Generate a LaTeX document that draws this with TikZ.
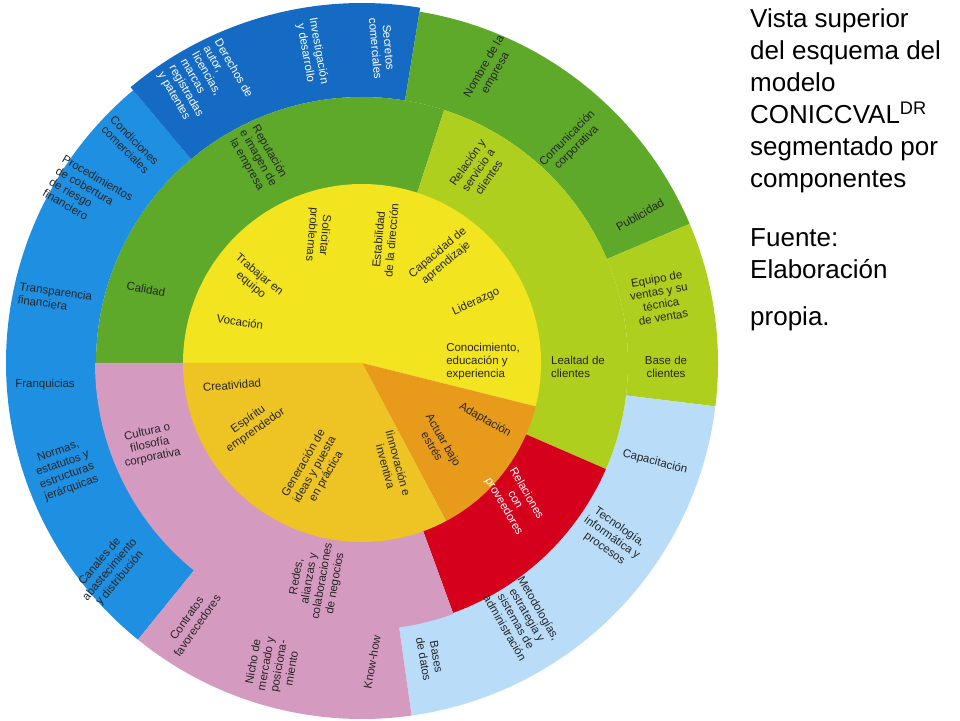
\documentclass[tikz,border=0pt]{standalone}
\usepackage{fontspec}
\setmainfont{Liberation Sans}
\begin{document}
\begin{tikzpicture}[x=1pt,y=1pt,
  lbl/.style={font=\fontsize{11.5}{13}\selectfont,align=center,inner sep=1pt,text=black!85},
  lbll/.style={lbl,align=left},
  wlbl/.style={lbl,text=white},
  title/.style={font=\fontsize{26}{32}\selectfont,align=left,anchor=north west,inner sep=0pt}]
\definecolor{dgreen}{HTML}{5EA82A}
\definecolor{lgreen}{HTML}{AECF1E}
\definecolor{yel}{HTML}{F2E41E}
\definecolor{ora}{HTML}{E89B1A}
\definecolor{gold}{HTML}{EDC423}
\definecolor{redc}{HTML}{D5001C}
\definecolor{pinkc}{HTML}{D59ABF}
\definecolor{lblue}{HTML}{B9DDF9}
\definecolor{bluec}{HTML}{1E8FE1}
\definecolor{dblue}{HTML}{156BC3}
\useasboundingbox (0,0) rectangle (960,720);
\fill[white] (0,0) rectangle (960,720);
\coordinate (C) at (362,357);
\newcommand\sect[5]{\fill[#1] ([shift={(362,357)}]#2:#5pt) arc[start angle=#2,end angle=#3,radius=#5pt] -- ([shift={(362,357)}]#3:#4pt) arc[start angle=#3,end angle=#2,radius=#4pt] -- cycle;}
\newcommand\pie[4]{\fill[#1] (C) -- ([shift={(362,357)}]#2:#4pt) arc[start angle=#2,end angle=#3,radius=#4pt] -- cycle;}
% outer ring
\sect{bluec}{130}{231}{266}{356}
\sect{dblue}{80.7}{130}{266}{360}
\sect{dgreen}{23}{80.7}{266}{356}
\sect{lgreen}{-7}{23}{266}{356}
\sect{lblue}{-82}{-7}{266}{356}
\sect{pinkc}{231}{278}{266}{356}
% middle ring
\sect{dgreen}{72}{180}{178}{266}
\sect{lgreen}{-23.5}{72}{178}{266}
\sect{redc}{-70}{-23.5}{178}{266}
\sect{pinkc}{180}{290}{178}{267}
% inner
\pie{yel}{-14}{180}{179}
\pie{ora}{-62}{-14}{179}
\pie{gold}{180}{298}{179}
% inner labels
\node[lbl,rotate=-95] (i1) at (318,485) {Solicitar\\problemas};
\node[lbl,rotate=85] (i2) at (385,480) {Estabilidad\\de la dirección};
\node[lbl,rotate=-40] (i3) at (255,440) {Trabajar en\\equipo};
\node[lbl,rotate=40] (i4) at (442,462) {Capacidad de\\aprendizaje};
\node[lbl,rotate=25] (i5) at (476,418) {Liderazgo};
\node[lbl,rotate=-8] (i6) at (240,398) {Vocación};
\node[lbll] (i7) at (483,358) {Conocimiento,\\educación y\\experiencia};
\node[lbl,rotate=-30] (i8) at (485,300) {Adaptación};
\node[lbl,rotate=-60] (i9) at (438,277) {Actuar bajo\\estrés};
\node[lbl,rotate=5] (i10) at (232,335) {Creatividad};
\node[lbl,rotate=35] (i11) at (252,295) {Espíritu\\emprendedor};
\node[lbl,rotate=60] (i12) at (315,250) {Generación de\\ideas y puesta\\en práctica};
\node[lbl,rotate=-75] (i13) at (392,255) {Iinnovación e\\inventiva};
% middle labels
\node[lbl,rotate=-60] (m1) at (258,562) {Reputación\\e imagen de\\la empresa};
\node[lbl,rotate=-10] (m2) at (146,431) {Calidad};
\node[lbl,rotate=55] (m3) at (478,550) {Relación y\\servicio a\\clientes};
\node[lbll] (m4) at (578,353) {Lealtad de\\clientes};
\node[wlbl,rotate=-60] (m5) at (515,220) {Relaciones\\con\\proveedores};
\node[lbl,rotate=12] (m6) at (150,275) {Cultura o\\filosofía\\corporativa};
% outer labels
\node[lbl,rotate=55] (o1) at (192,98) {Contratos\\favorecedores};
\node[lbl,rotate=80] (o2) at (272,55) {Nicho de\\mercado y\\posiciona-\\miento};
\node[lbl,rotate=80] (o3) at (316,140) {Redes,\\alianzas y\\colaboraciones\\de negocios};
\node[lbl,rotate=80] (o4) at (372,58) {Know-how};
\node[lbl,rotate=-80] (o5) at (430,62) {Bases\\de datos};
\node[lbl,rotate=-60] (o6) at (522,102) {Metodologías,\\estrategia y\\sistemas de\\administración};
\node[lbl,rotate=-35] (o7) at (612,182) {Tecnología,\\informática y\\procesos};
\node[lbl,rotate=-15] (o8) at (655,258) {Capacitación};
\node[lbl,rotate=10] (o9) at (660,422) {Equipo de\\ventas y su\\técnica\\de ventas};
\node[lbl] (o10) at (666,353) {Base de\\clientes};
\node[lbl,rotate=60] (o11) at (490,650) {Nombre de la\\empresa};
\node[lbl,rotate=45] (o12) at (572,577) {Comunicación\\corporativa};
\node[lbl,rotate=30] (o13) at (640,505) {Publicidad};
\node[wlbl,rotate=-85] (o14) at (382,672) {Secretos\\comerciales};
\node[wlbl,rotate=-80] (o15) at (312,668) {Investigación\\y desarrollo};
\node[wlbl,rotate=-60,align=left] (o16) at (205,635) {Derechos de\\autor,\\licencias,\\marcas\\registradas\\y patentes};
\node[lbl,rotate=-45] (o17) at (130,575) {Condiciones\\comerciales};
\node[lbl,rotate=-30,align=left] (o18) at (88,525) {Procedimientos\\de cobertura\\de riesgo\\financiero};
\node[lbl,rotate=-8,align=left] (o19) at (55,422) {Transparencia\\financiera};
\node[lbl] (o20) at (45,335) {Franquicias};
\node[lbl,rotate=20] (o21) at (65,250) {Normas,\\estatutos y\\estructuras\\jerárquicas};
\node[lbl,rotate=50] (o22) at (110,150) {Canales de\\abastecimiento\\y distribución};
% title
\node[title] (t1) at (750,712) {Vista superior\\del esquema del\\modelo\\CONICCVAL\textsuperscript{DR}\\segmentado por\\componentes};
\node[title] (t2) at (750,492) {Fuente:\\Elaboración};
\node[title] (t3) at (750,414) {propia.};
\end{tikzpicture}
\end{document}
